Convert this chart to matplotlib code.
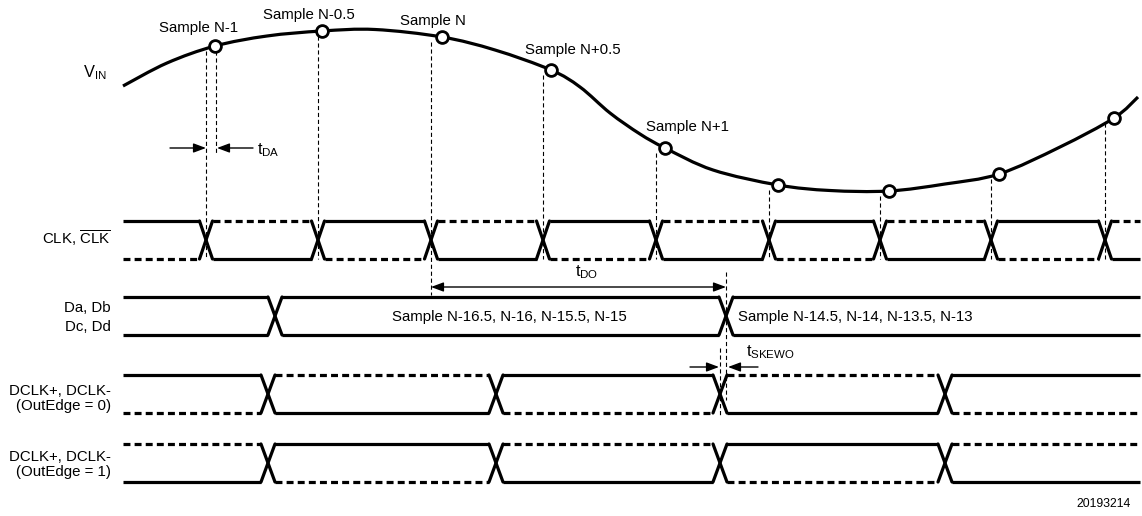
import numpy as np
import matplotlib
matplotlib.use("Agg")
import matplotlib.pyplot as plt
from matplotlib.path import Path
from matplotlib.patches import PathPatch, FancyArrowPatch

plt.rcParams['font.family'] = ['Liberation Sans', 'DejaVu Sans']
plt.rcParams['mathtext.fontset'] = 'custom'
plt.rcParams['mathtext.rm'] = 'Liberation Sans'
plt.rcParams['mathtext.it'] = 'Liberation Sans:italic'
plt.rcParams['lines.scale_dashes'] = False

# V_IN waveform (time, level)
vin_t = [123, 167, 215, 267, 322, 375, 442, 495, 551, 580, 610, 640, 665,
         713, 778, 830, 889, 945, 999, 1060, 1114, 1138]
vin_v = [86, 63, 46, 36, 31, 29.5, 37, 50, 70, 87, 113, 134, 148,
         170, 185, 190.5, 191, 184, 174, 147, 118, 97]

# sampling instants (circles) and clock edges
sample_t = [215, 322, 442, 551, 665, 778, 889, 999, 1114]
sample_v = [46, 31, 37, 70, 148, 185, 191, 174, 118]
sample_labels = ["Sample N-1", "Sample N-0.5", "Sample N", "Sample N+0.5",
                 "Sample N+1", "", "", "", ""]
clk_edges = [206, 318, 431, 543, 656, 769, 880, 991, 1105]
data_edges = [275, 726]
dclk_edges = [268, 496, 720, 945]
data_words = ["Sample N-16.5, N-16, N-15.5, N-15",
              "Sample N-14.5, N-14, N-13.5, N-13"]

T0, T1 = 123, 1140
LW = 2.3
DASH = (5, 3)
THIN = dict(color='black', lw=0.8, linestyle=(0, (3, 2)))
FS = 10.8


def catmull_path(xs, ys):
    pts = np.column_stack([xs, ys]).astype(float)
    verts = [pts[0]]
    codes = [Path.MOVETO]
    n = len(pts)
    for i in range(n - 1):
        p0 = pts[i - 1] if i > 0 else pts[i]
        p1, p2 = pts[i], pts[i + 1]
        p3 = pts[i + 2] if i + 2 < n else pts[i + 1]
        verts += [p1 + (p2 - p0) / 6, p2 - (p3 - p1) / 6, p2]
        codes += [Path.CURVE4] * 3
    return Path(verts, codes)


def draw_pair(ax, edges, y_hi, y_lo, hw, first_hi_solid=True, alternate=True):
    bounds = [T0] + list(edges) + [T1]
    for k in range(len(bounds) - 1):
        x0 = bounds[k] + (hw if k > 0 else 0)
        x1 = bounds[k + 1] - (hw if k < len(edges) else 0)
        hi_solid = first_hi_solid if k % 2 == 0 else not first_hi_solid
        if not alternate:
            styles = ['-', '-']
        else:
            styles = ['-' if hi_solid else '--', '--' if hi_solid else '-']
        for y, st in zip([y_hi, y_lo], styles):
            if st == '-':
                ax.plot([x0, x1], [y, y], color='black', lw=LW, solid_capstyle='butt')
            else:
                ax.plot([x0, x1], [y, y], color='black', lw=LW, dashes=DASH,
                        dash_capstyle='butt')
    for e in edges:
        ax.plot([e - hw, e + hw], [y_hi, y_lo], color='black', lw=LW,
                solid_capstyle='round')
        ax.plot([e - hw, e + hw], [y_lo, y_hi], color='black', lw=LW,
                solid_capstyle='round')


def arrow(ax, x0, x1, y, style='-|>'):
    a = FancyArrowPatch((x0, y), (x1, y),
                        arrowstyle=style + ',head_length=0.75,head_width=0.28',
                        mutation_scale=10, color='black', lw=1.0,
                        shrinkA=0, shrinkB=0)
    ax.add_patch(a)


fig = plt.figure(figsize=(11.42, 5.16), dpi=100)
ax = fig.add_axes([0, 0, 1, 1])
ax.set_xlim(0, 1142)
ax.set_ylim(516, 0)
ax.axis('off')

# sampling guide lines
for i, (e, v) in enumerate(zip(clk_edges, sample_v)):
    bottom = 295 if e == 431 else 259
    ax.plot([e, e], [v + 5, bottom], **THIN)
ax.plot([sample_t[0] + 1, sample_t[0] + 1], [51, 155], **THIN)

# V_IN curve
ax.add_patch(PathPatch(catmull_path(vin_t, vin_v), fill=False, lw=LW,
                       edgecolor='black', capstyle='butt'))
ax.plot(sample_t, sample_v, 'o', ms=8.5, mfc='white', mec='black', mew=2.0,
        zorder=5)
label_pos = [(199, 28), (309, 15), (433, 21), (573, 50), (688, 127)]
for lab, (lx, ly) in zip(sample_labels, label_pos):
    ax.text(lx, ly, lab, fontsize=FS, ha='center', va='center')
ax.text(83, 73, r'$\mathrm{V}_{\mathrm{IN}}$', fontsize=FS + 1, ha='left', va='center')

# t_DA
arrow(ax, 170, 206, 148)
arrow(ax, 253, 217, 148)
ax.text(257, 150, r'$\mathrm{t}_{\mathrm{DA}}$', fontsize=FS + 1, ha='left', va='center')

# CLK
draw_pair(ax, clk_edges, 221, 259, 6.5, True)
ax.text(111, 238, r'CLK, $\overline{\mathrm{CLK}}$', fontsize=FS, ha='right', va='center')

# t_DO
arrow(ax, 431, 726, 287, style='<|-|>')
ax.text(587, 272, r'$\mathrm{t}_{\mathrm{DO}}$', fontsize=FS + 1, ha='center', va='center')
ax.plot([726, 726], [272, 400], **THIN)

# data outputs
draw_pair(ax, data_edges, 297, 335, 7, alternate=False)
ax.text(509, 317, data_words[0], fontsize=FS, ha='center', va='center')
ax.text(738, 317, data_words[1], fontsize=FS, ha='left', va='center')
ax.text(111, 308, "Da, Db", fontsize=FS, ha='right', va='center')
ax.text(111, 327, "Dc, Dd", fontsize=FS, ha='right', va='center')

# t_SKEWO
ax.plot([720, 720], [348, 415], **THIN)
arrow(ax, 690, 719, 367)
arrow(ax, 758, 728, 367)
ax.text(746, 352, r'$\mathrm{t}_{\mathrm{SKEWO}}$', fontsize=FS + 1, ha='left', va='center')

# DCLK
draw_pair(ax, dclk_edges, 375, 413, 7, True)
ax.text(111, 391, "DCLK+, DCLK-", fontsize=FS, ha='right', va='center')
ax.text(111, 406, "(OutEdge = 0)", fontsize=FS, ha='right', va='center')
draw_pair(ax, dclk_edges, 444, 482, 7, False)
ax.text(111, 457, "DCLK+, DCLK-", fontsize=FS, ha='right', va='center')
ax.text(111, 472, "(OutEdge = 1)", fontsize=FS, ha='right', va='center')

ax.text(1131, 504, "20193214", fontsize=FS - 2, ha='right', va='center')

fig.savefig("out.png", dpi=100)
